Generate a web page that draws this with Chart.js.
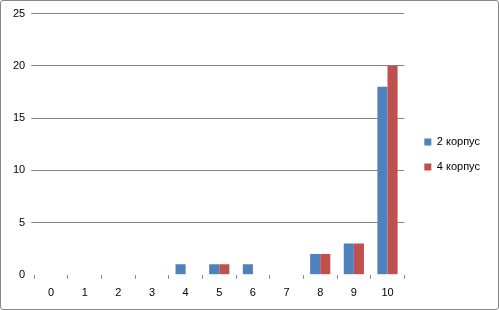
<!DOCTYPE html>
<html>
<head>
<meta charset="utf-8">
<script src="https://cdn.jsdelivr.net/npm/chart.js@4/dist/chart.umd.min.js"></script>
<style>
html,body{margin:0;padding:0;background:#fff;}
#wrap{position:absolute;left:0;top:0;width:497px;height:308px;border:1px solid #868686;border-radius:3px;}
#c{display:block;}
</style>
</head>
<body>
<div id="wrap"><canvas id="c" width="497" height="308"></canvas></div>
<script>
const categories = ["0","1","2","3","4","5","6","7","8","9","10"];
const series1Name = "2 корпус";
const series2Name = "4 корпус";
const series1 = [0,0,0,0,1,1,1,0,2,3,18];
const series2 = [0,0,0,0,0,1,0,0,2,3,20];
const yTicks = [0,5,10,15,20,25];

const legendGap = {
  id: 'legendGap',
  beforeInit(chart) {
    const orig = chart.legend.fit;
    chart.legend.fit = function () { orig.call(this); this.width += 6; };
  },
  afterLayout(chart) {
    chart.legend.left += 6;
    chart.legend.top -= 6;
    chart.legend.bottom -= 6;
  }
};

new Chart(document.getElementById('c'), {
  type: 'bar',
  data: {
    labels: categories,
    datasets: [
      {label: series1Name, data: series1, backgroundColor: '#4F81BD', categoryPercentage: 0.6, barPercentage: 1.0},
      {label: series2Name, data: series2, backgroundColor: '#C0504D', categoryPercentage: 0.6, barPercentage: 1.0}
    ]
  },
  plugins: [legendGap],
  options: {
    responsive: false,
    animation: false,
    layout: {padding: {left: 6, top: 12, right: 8, bottom: 1}},
    plugins: {
      tooltip: {enabled: false},
      legend: {
        position: 'right',
        labels: {boxWidth: 7, boxHeight: 7, padding: 14, color: '#000', font: {family: 'Liberation Sans', size: 11}}
      }
    },
    scales: {
      x: {
        offset: true,
        grid: {offset: true, drawOnChartArea: false, drawTicks: true, tickLength: 4, color: '#868686'},
        border: {display: false},
        ticks: {color: '#000', padding: 8, font: {family: 'Liberation Sans', size: 11}, maxRotation: 0}
      },
      y: {
        min: 0, max: 25,
        afterBuildTicks: (axis) => { axis.ticks = yTicks.map(v => ({value: v})); },
        grid: {color: (ctx) => (ctx.tick && ctx.tick.value === 0) ? 'rgba(0,0,0,0)' : '#868686', tickLength: 3},
        border: {display: false},
        ticks: {color: '#000', padding: 6, font: {family: 'Liberation Sans', size: 11}}
      }
    }
  }
});
</script>
</body>
</html>
